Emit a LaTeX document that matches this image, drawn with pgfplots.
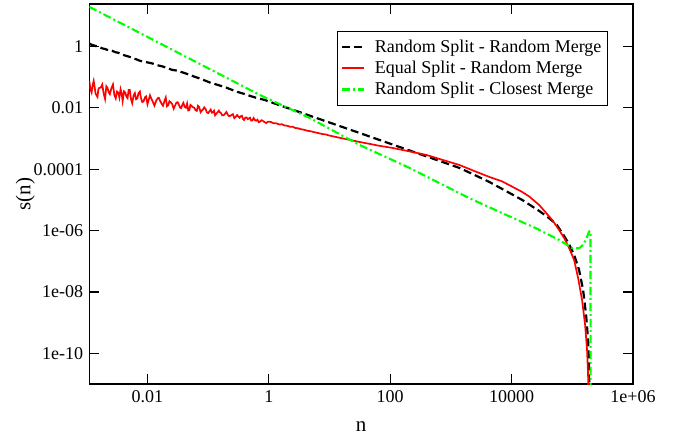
\documentclass[border=0pt]{standalone}
\usepackage{fontspec}
\setmainfont{Liberation Serif}
\usepackage{pgfplots}
\pgfplotsset{compat=1.18}
\usetikzlibrary{calc}
\definecolor{ggreen}{RGB}{0,255,0}
\definecolor{gred}{RGB}{255,0,0}
\begin{document}
\fontsize{18}{21}\selectfont
\begin{tikzpicture}[font=\fontsize{18}{21}\selectfont]
\begin{axis}[
 name=ax,
 xmode=log, ymode=log,
 scale only axis, width=543.7pt, height=380pt,
 xmin=0.0011, xmax=1e6, ymin=1e-11, ymax=24,
 xtick={0.01,1,100,10000,1000000}, xticklabels={0.01,1,100,10000,1e+06},
 ytick={1e-10,1e-8,1e-6,1e-4,1e-2,1}, yticklabels={1e-10,1e-08,1e-06,0.0001,0.01,1},
 xminorticks=false, yminorticks=false,
 tick align=inside, major tick length=10pt,
 tick style={black, line width=1.2pt},
 axis line style={line width=1.2pt},
 ticklabel style={font=\fontsize{18}{21}\selectfont},
 xlabel={n}, ylabel={s(n)},
 xlabel style={at={(axis description cs:0.5,-0.1132)}, anchor=center, font=\fontsize{21}{24}\selectfont},
 ylabel style={at={(axis description cs:-0.1177,0.5)}, anchor=center, font=\fontsize{21}{24}\selectfont},
 legend style={at={(0.954,0.929)}, anchor=north east, draw=black, line width=1.1pt, fill=white,
   inner xsep=3.5pt, inner ysep=5pt, font=\fontsize{18}{21}\selectfont, nodes={inner xsep=2.5pt, inner ysep=3pt},
   /tikz/every odd column/.append style={column sep=7pt}},
 legend cell align=left,
 legend image code/.code={\draw[#1] (0pt,0pt) -- (22pt,0pt);},
]
\addplot[black, line width=2.2pt, dash pattern=on 8pt off 4pt] coordinates {
(0.0011,1.25)(0.0012,1.12)(0.0013,1.08)(0.0015,0.98)(0.0016,0.95)(0.0018,0.86)(0.002,0.82)(0.0023,0.74)(0.0026,0.72)(0.003,0.64)(0.0033,0.62)(0.0038,0.55)(0.0043,0.50)(0.005,0.46)(0.0057,0.41)(0.0065,0.38)(0.0075,0.34)(0.0088,0.315)(0.01,0.30)(0.0118,0.28)(0.015,0.24)(0.018,0.22)(0.022,0.19)(0.026,0.17)(0.031,0.162)(0.036,0.146)(0.041,0.135)(0.05,0.117)(0.06,0.102)(0.075,0.088)(0.09,0.076)(0.11,0.065)(0.144,0.0556)(0.17,0.050)(0.2,0.045)(0.25,0.038)(0.3,0.033)(0.4,0.028)(0.5,0.024)(0.65,0.0205)(0.853,0.018)(1.2,0.0141)(1.7,0.0111)(3,0.00757)(5,0.0053)(10,0.0033)(30,0.00155)(100,6.73e-4)(300,3.15e-4)(1000,1.37e-4)(1374,1.10e-4)(2520,6.3e-5)(4285,3.83e-5)(7000,2.26e-5)(14930,9.93e-6)(28440,4.35e-6)(40000,2.67e-6)(54200,1.64e-6)(73300,6.65e-7)(88500,3.6e-7)(107100,1.60e-7)(129400,5.19e-8)(150600,1.16e-8)(168700,1.77e-9)(182000,2.71e-10)(188800,4.16e-11)(192700,1e-13)
};
\addlegendentry{Random Split - Random Merge}
\addplot[gred, line width=1.7pt] coordinates {
(0.0011,0.0752)(0.00115,0.0391)(0.0012,0.0314)(0.00125,0.0542)(0.0013,0.0746)(0.0014,0.0285)(0.0015,0.0226)(0.00155,0.0393)(0.0016,0.0440)(0.0017,0.0454)(0.0018,0.0571)(0.0019,0.0286)(0.002,0.0194)(0.0021,0.0501)(0.0022,0.0438)(0.0023,0.0318)(0.0024,0.0277)(0.00255,0.0437)(0.0027,0.0573)(0.00285,0.0259)(0.003,0.0202)(0.00315,0.0337)(0.0033,0.0311)(0.00345,0.0214)(0.0036,0.0401)(0.00375,0.0297)(0.0039,0.0166)(0.0041,0.0343)(0.0043,0.0313)(0.0045,0.0231)(0.0047,0.0206)(0.0049,0.0383)(0.0051,0.0383)(0.00535,0.0192)(0.0056,0.0141)(0.0059,0.0249)(0.0062,0.0299)(0.0065,0.0189)(0.0068,0.0201)(0.0071,0.0295)(0.0075,0.0336)(0.0078,0.0211)(0.0082,0.0154)(0.0086,0.0160)(0.0091,0.0219)(0.0095,0.0234)
(0.010,0.0131)(0.011,0.0255)(0.0115,0.0205)(0.012,0.0171)(0.0125,0.01426)(0.013,0.0117)(0.014,0.01749)(0.015,0.0211)(0.0155,0.0207)(0.016,0.0174)(0.017,0.01375)(0.018,0.0116)(0.019,0.01621)(0.020,0.0215)(0.021,0.01120)(0.022,0.0122)(0.023,0.01636)(0.024,0.0152)(0.0255,0.01331)(0.027,0.00931)(0.0285,0.01174)(0.030,0.0148)(0.0315,0.01511)(0.033,0.0125)(0.0345,0.01005)(0.036,0.00977)(0.0375,0.01248)(0.039,0.0144)(0.041,0.01064)(0.043,0.0100)(0.045,0.01371)(0.047,0.00818)(0.049,0.00842)(0.051,0.0124)(0.0535,0.01133)(0.056,0.0104)(0.059,0.01005)(0.062,0.00830)(0.065,0.00788)(0.068,0.0116)(0.071,0.01059)(0.075,0.00719)(0.078,0.00798)(0.082,0.00875)(0.086,0.01027)(0.091,0.00902)(0.095,0.00708)
(0.10,0.00668)(0.11,0.00875)(0.115,0.00692)(0.12,0.00703)(0.125,0.00799)(0.13,0.00570)(0.14,0.00680)(0.15,0.00805)(0.155,0.00707)(0.16,0.00703)(0.17,0.00572)(0.18,0.00566)(0.19,0.00641)(0.20,0.00729)(0.21,0.00593)(0.22,0.00538)(0.23,0.00540)(0.24,0.00575)(0.255,0.00619)(0.27,0.00460)(0.285,0.00507)(0.30,0.00581)(0.315,0.00517)(0.33,0.00472)(0.345,0.00530)(0.36,0.00548)(0.375,0.00430)(0.39,0.00398)(0.41,0.00477)(0.43,0.00482)(0.45,0.00425)(0.47,0.00451)(0.49,0.00472)(0.51,0.00381)(0.535,0.00382)(0.56,0.00463)(0.59,0.00398)(0.62,0.00378)(0.65,0.00407)(0.68,0.00339)(0.71,0.00350)(0.75,0.00391)(0.78,0.00387)(0.82,0.00356)(0.86,0.00338)(0.91,0.00315)(0.95,0.00345)(1.0,0.00353)
(1.1,3.4e-3)(1.2,3.1e-3)(1.3,3.15e-3)(1.5,2.85e-3)(1.65,2.9e-3)(1.8,2.65e-3)(2.0,2.6e-3)(2.2,2.42e-3)(2.5,2.38e-3)(2.7,2.2e-3)(3.0,2.15e-3)(3.3,2.02e-3)(3.8,1.92e-3)(4.3,1.78e-3)(5.0,1.7e-3)(5.6,1.6e-3)(6.5,1.5e-3)(7.5,1.4e-3)(8.5,1.36e-3)(10,1.24e-3)(15,1.04e-3)(22,8.9e-4)(31,7.7e-4)(45,6.7e-4)(65,5.8e-4)(109,4.9e-4)(200,3.85e-4)(394,2.9e-4)(700,2.05e-4)(1374,1.37e-4)(2500,8.5e-5)(4285,5.58e-5)(7000,3.98e-5)(14930,1.81e-5)(19460,1.29e-5)(28440,6.8e-6)(37100,3.74e-6)(46600,2.21e-6)(60700,1.04e-6)(73300,5.73e-7)(88500,2.70e-7)(107100,1.10e-7)(124500,2.85e-8)(144900,5.46e-9)(162500,8.36e-10)(175000,1.28e-10)(182000,1.96e-11)(184000,1e-13)
};
\addlegendentry{Equal Split - Random Merge}
\addplot[ggreen, line width=2.1pt, dash pattern=on 8pt off 3pt on 2pt off 3pt] coordinates {
(0.0011,19.4)(0.706,0.0262)(4.69,4.67e-3)(31.1,6.16e-4)(207,1.10e-4)(2009,1.13e-5)(7080,3.66e-6)(25120,1.19e-6)(60700,4.93e-7)(100500,2.65e-7)(129400,2.65e-7)(150000,3.4e-7)(166700,4.93e-7)(188800,9.2e-7)(199000,9.6e-7)(201000,1e-13)
};
\addlegendentry{Random Split - Closest Merge}
\end{axis}
\pgfresetboundingbox
\path ($(ax.south west)+(-89.3pt,-55pt)$) rectangle ($(ax.north east)+(41pt,4pt)$);
\end{tikzpicture}
\end{document}
